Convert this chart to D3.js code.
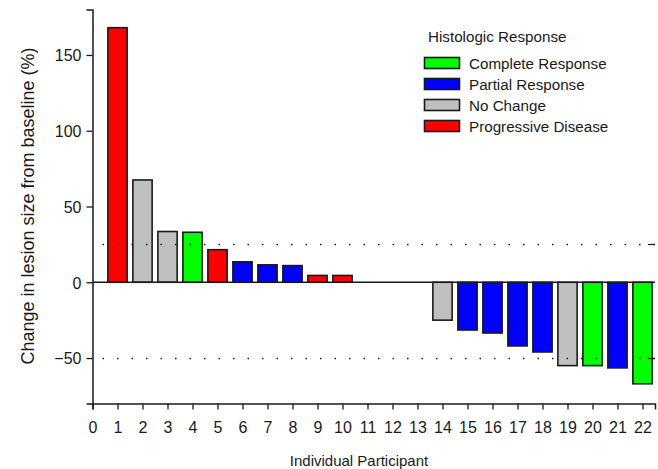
<!DOCTYPE html>
<html>
<head>
<meta charset="utf-8">
<script src="https://cdn.jsdelivr.net/npm/d3@7"></script>
<style>
  html, body { margin: 0; padding: 0; background: #fff; }
  text { font-family: "Liberation Sans", Arial, sans-serif; fill: #1a1a1a; }
</style>
</head>
<body>
<svg id="chart" width="658" height="469"></svg>
<script>
// ---- data ----
const participants = [1, 2, 3, 4, 5, 6, 7, 8, 9, 10, 14, 15, 16, 17, 18, 19, 20, 21, 22];
const changes = [168, 67.5, 33.5, 33, 21.5, 13.5, 11.5, 11, 4.5, 4.5,
                 -25, -31.5, -33.5, -42, -46, -55, -55, -56.5, -67];
const responses = ["PD", "NC", "NC", "CR", "PD", "PR", "PR", "PR", "PD", "PD",
                   "NC", "PR", "PR", "PR", "PR", "NC", "CR", "PR", "CR"];
const categoryKeys = ["CR", "PR", "NC", "PD"];
const categoryLabels = ["Complete Response", "Partial Response", "No Change", "Progressive Disease"];
const categoryColors = ["#00ff00", "#0000ff", "#c0c0c0", "#ff0000"];
const xTicks = d3.range(0, 23);
const yTicks = [-50, 0, 50, 100, 150];
const refLines = [25, -50];

// ---- layout ----
const svg = d3.select("#chart");
const x = d3.scaleLinear().domain([0, 22.5]).range([92.5, 655]);
const y = d3.scaleLinear().domain([-80, 180]).range([403.5, 9.5]);
const color = d3.scaleOrdinal().domain(categoryKeys).range(categoryColors);
const barW = x(0.77) - x(0);

const data = participants.map((p, i) => ({ p, v: changes[i], r: responses[i] }));

// bars
svg.append("g").selectAll("rect").data(data).join("rect")
  .attr("x", d => x(d.p) - barW / 2)
  .attr("y", d => y(Math.max(0, d.v)))
  .attr("width", barW)
  .attr("height", d => Math.abs(y(d.v) - y(0)))
  .attr("fill", d => color(d.r))
  .attr("stroke", "#1a1a1a")
  .attr("stroke-width", 1.6);

// zero line
svg.append("line")
  .attr("x1", x(0)).attr("x2", x(22.5))
  .attr("y1", y(0)).attr("y2", y(0))
  .attr("stroke", "#1a1a1a").attr("stroke-width", 1.5);

// dotted reference lines
svg.append("g").selectAll("line").data(refLines).join("line")
  .attr("x1", x(0) + 10).attr("x2", x(22.5))
  .attr("y1", d => Math.round(y(d)) + 0.5).attr("y2", d => Math.round(y(d)) + 0.5)
  .attr("stroke", "#1a1a1a").attr("stroke-width", 1.5)
  .attr("stroke-dasharray", "1.5,13");
svg.append("g").selectAll("line").data(refLines).join("line")
  .attr("x1", x(22.5) - 7).attr("x2", x(22.5))
  .attr("y1", d => Math.round(y(d)) + 0.5).attr("y2", d => Math.round(y(d)) + 0.5)
  .attr("stroke", "#1a1a1a").attr("stroke-width", 1.2);

// axes
const xAxis = svg.append("g")
  .attr("transform", `translate(0,${y(-80)})`)
  .call(d3.axisBottom(x).tickValues(xTicks).tickFormat(d3.format("d")).tickSize(6).tickPadding(12));
const yAxis = svg.append("g")
  .attr("transform", `translate(${x(0)},0)`)
  .call(d3.axisLeft(y).tickValues(yTicks).tickSize(6).tickPadding(5));
[xAxis, yAxis].forEach(a => {
  a.select(".domain").attr("stroke", "#1a1a1a").attr("stroke-width", 1.5);
  a.selectAll(".tick line").attr("stroke", "#1a1a1a").attr("stroke-width", 1.3);
  a.selectAll(".tick text").style("font-size", "16px").attr("fill", "#1a1a1a")
    .style("font-family", "'Liberation Sans', Arial, sans-serif");
});
yAxis.selectAll(".tick text").attr("dy", "0.36em");

// axis titles
svg.append("text")
  .attr("x", 359).attr("y", 466)
  .attr("text-anchor", "middle")
  .style("font-size", "15px")
  .text("Individual Participant");
svg.append("text")
  .attr("transform", "translate(34,206) rotate(-90)")
  .attr("text-anchor", "middle")
  .style("font-size", "18px")
  .text("Change in lesion size from baseline (%)");

// legend
const legend = svg.append("g");
legend.append("text")
  .attr("x", 428).attr("y", 42)
  .style("font-size", "15.2px")
  .text("Histologic Response");
const items = legend.selectAll("g.item").data(categoryKeys).join("g")
  .attr("class", "item")
  .attr("transform", (d, i) => `translate(0,${57.5 + i * 21})`);
items.append("rect")
  .attr("x", 424.5).attr("y", 0).attr("width", 35).attr("height", 11)
  .attr("fill", d => color(d))
  .attr("stroke", "#1a1a1a").attr("stroke-width", 1.6);
items.append("text")
  .attr("x", 469).attr("y", 11.5)
  .style("font-size", "15.2px")
  .text((d, i) => categoryLabels[i]);
</script>
</body>
</html>
